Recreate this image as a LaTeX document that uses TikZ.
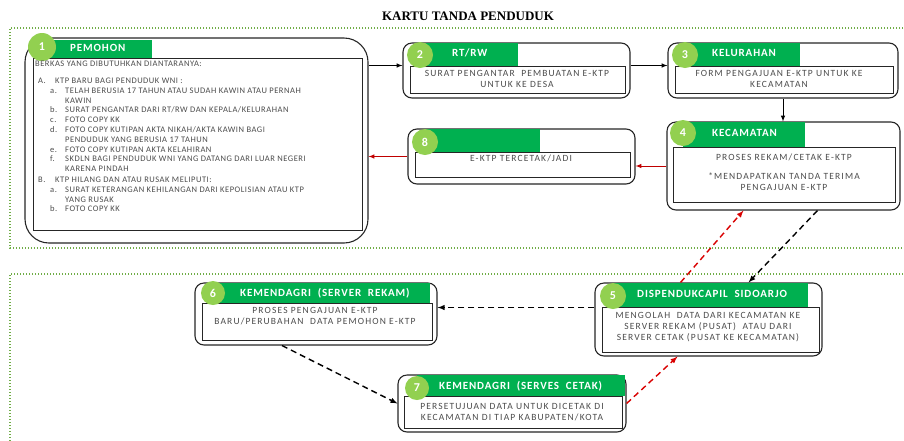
\documentclass[tikz,border=0pt]{standalone}
\usepackage{fontspec}
\setmainfont{Carlito}
\newfontfamily\titrefont{Liberation Serif}
\usetikzlibrary{arrows}
\usetikzlibrary{calc,shapes}
\definecolor{vert}{HTML}{00B050}
\definecolor{vertclair}{HTML}{92D050}
\definecolor{pointille}{HTML}{70AD47}
\definecolor{rouge}{HTML}{C00000}

\begin{document}
\begin{tikzpicture}[x=1pt,y=-1pt,
  boite/.style={draw=black!85,line width=1.1pt,fill=white,rounded corners=9pt,inner sep=0pt},
  cadre/.style={draw=black!85,line width=0.8pt,inner sep=0pt},
  onglet/.style={fill=vert,inner sep=0pt},
  rond/.style={circle,fill=vertclair,text=white,font=\bfseries\fontsize{12}{12}\selectfont,minimum size=26pt,inner sep=0pt},
  titre/.style={text=white,font=\bfseries\fontsize{11}{11}\selectfont\addfontfeature{LetterSpace=8},anchor=west,inner sep=0pt},
  texte/.style={text=black!70,font=\fontsize{9.5}{11}\selectfont\addfontfeature{LetterSpace=12},align=center,inner sep=0pt},
  liste/.style={text=black!70,font=\fontsize{8.5}{9.8}\selectfont\addfontfeature{LetterSpace=6},align=left,inner sep=0pt},
  fleche/.style={-latex,line width=1pt},
  tirets/.style={-latex,line width=1.4pt,dash pattern=on 6pt off 4pt},
  zone/.style={draw=pointille,line width=1.4pt,dash pattern=on 1.3pt off 1.7pt}]
\useasboundingbox (0,0) rectangle (904,440);
% Titre et zones
\node[font=\titrefont\bfseries\fontsize{13}{13}\selectfont,inner sep=0pt] (titre) at (468,16) {KARTU TANDA PENDUDUK};
\draw[zone] (912,28) -- (10,28) -- (10,248) -- (912,248);
\draw[zone] (912,274) -- (10,274) -- (10,445);

% 1 - pemohon
\node[boite,rounded corners=24pt,minimum width=343,minimum height=205] (e1) at (196.5,140.5) {};
\node[onglet,minimum width=110,minimum height=18] (o1) at (97,49) {};
\node[cadre,minimum width=329,minimum height=172] (c1) at (197.5,144) {};
\node[rond,minimum size=28pt] (r1) at (42,47) {1};
\node[titre] at (70,48) {PEMOHON};
\node[liste,anchor=north west] (l1) at (35,61) {BERKAS YANG DIBUTUHKAN DIANTARANYA:\\[7pt]
\hspace*{3pt}\makebox[17pt][l]{A.}KTP BARU BAGI PENDUDUK WNI :\\
\hspace*{15pt}\makebox[15pt][l]{a.}TELAH BERUSIA 17 TAHUN ATAU SUDAH KAWIN ATAU PERNAH\\
\hspace*{30pt}KAWIN\\
\hspace*{15pt}\makebox[15pt][l]{b.}SURAT PENGANTAR DARI RT/RW DAN KEPALA/KELURAHAN\\
\hspace*{15pt}\makebox[15pt][l]{c.}FOTO COPY KK\\
\hspace*{15pt}\makebox[15pt][l]{d.}FOTO COPY KUTIPAN AKTA NIKAH/AKTA KAWIN BAGI\\
\hspace*{30pt}PENDUDUK YANG BERUSIA 17 TAHUN\\
\hspace*{15pt}\makebox[15pt][l]{e.}FOTO COPY KUTIPAN AKTA KELAHIRAN\\
\hspace*{15pt}\makebox[15pt][l]{f.}SKDLN BAGI PENDUDUK WNI YANG DATANG DARI LUAR NEGERI\\
\hspace*{30pt}KARENA PINDAH\\[1pt]
\hspace*{3pt}\makebox[17pt][l]{B.}KTP HILANG DAN ATAU RUSAK MELIPUTI:\\
\hspace*{15pt}\makebox[15pt][l]{a.}SURAT KETERANGAN KEHILANGAN DARI KEPOLISIAN ATAU KTP\\
\hspace*{30pt}YANG RUSAK\\
\hspace*{15pt}\makebox[15pt][l]{b.}FOTO COPY KK};

% 2 - rt/rw
\node[boite,minimum width=227,minimum height=55] (e2) at (516.5,70.5) {};
\node[onglet,minimum width=98,minimum height=23] (o2) at (469,54.5) {};
\node[cadre,minimum width=215,minimum height=27] (c2) at (517.5,79.5) {};
\node[rond] (r2) at (420,55) {2};
\node[titre] at (452,53) {RT/RW};
\node[texte] (t2) at (517,79) {SURAT PENGANTAR\ \ PEMBUATAN E-KTP\\UNTUK KE DESA};

% 3 - kelurahan
\node[boite,minimum width=230,minimum height=55] (e3) at (783,70.5) {};
\node[onglet,minimum width=115,minimum height=23] (o3) at (742.5,54.5) {};
\node[cadre,minimum width=218,minimum height=27] (c3) at (784,79.5) {};
\node[rond] (r3) at (685,55) {3};
\node[titre] at (712,53) {KELURAHAN};
\node[texte] (t3) at (779,79) {FORM PENGAJUAN E-KTP UNTUK KE\\KECAMATAN};

% 4 - kecamatan
\node[boite,minimum width=233,minimum height=88] (e4) at (783.5,166) {};
\node[onglet,minimum width=122,minimum height=25] (o4) at (744,134.5) {};
\node[cadre,minimum width=222,minimum height=55] (c4) at (784,174.5) {};
\node[rond] (r4) at (683,133) {4};
\node[titre] at (712,133) {KECAMATAN};
\node[texte] (t4) at (784,157) {PROSES REKAM/CETAK E-KTP};
\node[texte] (u4) at (784,182) {*MENDAPATKAN TANDA TERIMA\\PENGAJUAN E-KTP};

% 8 - e-ktp
\node[boite,minimum width=227,minimum height=55] (e8) at (521.5,156.5) {};
\node[onglet,minimum width=115,minimum height=23] (o8) at (482.5,140.5) {};
\node[cadre,minimum width=215,minimum height=25] (c8) at (522.5,164.5) {};
\node[rond] (r8) at (425,142) {8};
\node[texte] (t8) at (521,158) {E-KTP TERCETAK/JADI};

% 6 - server rekam
\node[boite,minimum width=242,minimum height=62] (e6) at (316,314) {};
\node[onglet,minimum width=217,minimum height=20] (o6) at (321.5,293) {};
\node[cadre,minimum width=230,minimum height=37] (c6) at (317,321.5) {};
\node[rond,minimum size=24pt] (r6) at (213,293) {6};
\node[titre] at (240,293) {KEMENDAGRI\ \ (SERVER\ \ REKAM)};
\node[texte] (t6) at (315,316) {PROSES PENGAJUAN E-KTP\\BARU/PERUBAHAN\ \ DATA PEMOHON E-KTP};

% 7 - server cetak
\node[boite,minimum width=228,minimum height=57] (e7) at (512,403.5) {};
\node[onglet,minimum width=208,minimum height=21] (o7) at (521,385.5) {};
\node[cadre,minimum width=218,minimum height=32] (c7) at (513,412) {};
\node[rond,minimum size=24pt] (r7) at (417,388) {7};
\node[titre] at (439,386) {KEMENDAGRI\ \ (SERVES\ \ CETAK)};
\node[texte] (t7) at (512,412.5) {PERSETUJUAN DATA UNTUK DICETAK DI\\KECAMATAN DI TIAP KABUPATEN/KOTA};

% 5 - dispendukcapil
\node[boite,minimum width=227,minimum height=73] (e5) at (708.5,319.5) {};

% Flèches
\draw[fleche] ([yshift=5pt]e2.west -| e1.east) -- ([yshift=5pt]e2.west);
\draw[fleche] ([yshift=5pt]e2.east) -- ([yshift=5pt]e3.west);
\draw[fleche] (e3.south) -- (e3.south |- e4.north);
\draw[fleche,rouge] (e4.west) -- (e4.west -| e8.east);
\draw[fleche,rouge] (e8.west) -- (e8.west -| e1.east);
\draw[tirets] ([xshift=34pt]e4.south) -- ([xshift=40pt]e5.north);
\draw[tirets] ([yshift=12pt]e5.west) -- ([yshift=12pt]e5.west -| e6.east);
\draw[tirets] ([xshift=-34pt]e6.south) -- (e7.west);
\draw[tirets,red!85!black] (e7.east) -- ([xshift=-31pt]e5.south);
\draw[tirets,red!85!black] ([xshift=-28pt]e5.north) -- ([xshift=-40pt]e4.south);

\node[onglet,minimum width=195,minimum height=24] (o5) at (710.5,295) {};
\node[cadre,minimum width=217,minimum height=45] (c5) at (710.5,329.5) {};
\node[rond] (r5) at (613,296) {5};
\node[titre] at (637,294) {DISPENDUKCAPIL\ \ SIDOARJO};
\node[texte] (t5) at (708,327) {MENGOLAH\ \ DATA DARI KECAMATAN KE\\SERVER REKAM (PUSAT)\ \ ATAU DARI\\SERVER CETAK (PUSAT KE KECAMATAN)};
\end{tikzpicture}
\end{document}
